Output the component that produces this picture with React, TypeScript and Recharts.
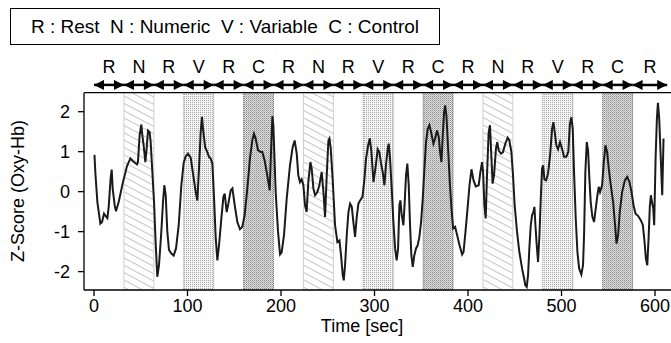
import {
  LineChart,
  Line,
  XAxis,
  YAxis,
  ReferenceArea,
  ReferenceLine,
} from "recharts";

const FONT = '"Liberation Sans", Arial, sans-serif';

// task blocks (sec)
const blockLabels = ["R", "N", "R", "V", "R", "C", "R", "N", "R", "V", "R", "C", "R", "N", "R", "V", "R", "C", "R"];
const blockEdges = [0, 32, 64, 96, 128, 160, 192, 224, 256, 288, 320, 352, 384, 416, 448, 480, 512, 544, 576, 613];

const xTicks = [0, 100, 200, 300, 400, 500, 600];
const yTicks = [-2, -1, 0, 1, 2];

const timeSec = [
  0.5, 1.4, 3.6, 6.8, 8.6, 10.7, 12.5, 14.3, 15.7, 17.8, 18.9, 20.0, 22.1, 23.5, 26.4, 31.0, 35.3, 38.9, 41.7, 46.0,
  47.0, 48.8, 50.6, 51.7, 53.1, 54.9, 56.3, 57.8, 59.5, 60.6, 62.4, 64.2, 65.9, 67.7, 69.5, 72.0, 73.8, 75.2, 76.7, 78.4,
  80.2, 82.7, 85.2, 87.7, 90.6, 93.4, 95.9, 98.0, 100.5, 103.4, 105.9, 108.7, 110.5, 112.3, 114.1, 115.5, 116.6, 118.8, 121.2, 123.0,
  124.8, 126.6, 128.4, 130.2, 131.9, 133.7, 136.2, 138.4, 139.8, 141.9, 143.7, 146.2, 148.0, 150.5, 153.3, 156.1, 158.6, 161.1, 164.0, 166.8,
  169.3, 171.1, 172.9, 175.4, 178.2, 180.0, 182.5, 184.7, 186.5, 187.9, 189.3, 190.8, 191.8, 194.3, 196.8, 199.0, 200.7, 203.2, 206.1, 209.6,
  212.5, 214.6, 216.8, 218.5, 220.3, 222.1, 223.9, 225.7, 227.4, 229.2, 231.4, 232.8, 234.6, 236.4, 238.9, 241.0, 243.5, 245.4, 247.1, 248.9,
  250.7, 251.8, 253.2, 255.4, 257.8, 260.3, 262.5, 264.2, 266.0, 267.1, 268.5, 270.3, 272.1, 273.9, 275.7, 277.4, 279.2, 281.0, 282.8, 284.6,
  287.1, 288.9, 291.0, 293.2, 295.0, 296.7, 298.9, 301.4, 303.4, 305.2, 307.0, 308.8, 310.6, 312.4, 314.2, 315.2, 316.6, 318.4, 320.2, 322.0,
  323.7, 325.2, 326.6, 327.7, 329.1, 330.9, 332.3, 333.7, 335.1, 336.6, 338.0, 339.4, 340.9, 342.6, 344.4, 346.2, 348.0, 349.8, 351.6, 353.4,
  355.1, 356.9, 358.7, 360.5, 363.0, 364.8, 366.9, 368.7, 370.1, 371.6, 373.0, 374.4, 375.5, 376.9, 378.7, 380.5, 382.3, 384.1, 386.2, 388.4,
  390.9, 393.7, 395.2, 397.3, 399.5, 401.6, 403.7, 405.9, 408.3, 411.4, 413.2, 415.0, 416.1, 417.5, 418.9, 420.3, 422.1, 423.5, 424.9, 426.3,
  427.8, 429.9, 431.3, 432.8, 435.3, 437.4, 439.9, 442.4, 444.2, 446.4, 448.1, 449.9, 452.4, 454.9, 457.8, 459.6, 461.3, 462.8, 464.2, 465.6,
  467.1, 468.5, 469.9, 471.0, 472.1, 473.5, 474.9, 476.4, 477.8, 479.2, 480.3, 481.7, 483.5, 485.6, 487.8, 489.9, 491.3, 492.7, 494.5, 496.3,
  498.4, 500.5, 502.7, 505.2, 507.3, 508.9, 510.5, 512.0, 513.4, 515.2, 517.0, 518.8, 521.2, 523.0, 524.1, 525.5, 527.0, 528.4, 529.8, 531.2,
  533.0, 534.8, 536.6, 538.4, 539.8, 541.2, 543.4, 545.2, 547.0, 548.8, 550.5, 552.7, 555.2, 557.0, 558.8, 560.5, 562.3, 564.8, 567.7, 570.2,
  572.7, 574.9, 577.0, 579.2, 582.0, 584.9, 587.0, 588.8, 590.2, 591.7, 593.1, 594.5, 595.6, 596.7, 598.1, 599.1, 600.6, 602.0, 603.1, 604.5,
  606.3, 607.7, 609.1,
];

const zScore = [
  0.92, 0.49, -0.26, -0.8, -0.76, -0.55, -0.61, -0.66, -0.38, 0.33, 0.55, 0.07, -0.34, -0.49, -0.26, 0.24, 0.64, 0.83, 0.76, 0.68,
  0.74, 1.41, 1.68, 1.41, 1.16, 0.74, 1.08, 1.53, 1.49, 1.24, 0.49, -0.26, -1.26, -2.13, -1.84, -1.0, -0.26, 0.16, -0.09, -1.0,
  -1.46, -1.55, -1.6, -1.42, -0.84, 0.16, 0.72, 0.88, 0.95, 0.85, 0.45, 0.0, -0.22, 0.58, 1.49, 1.87, 1.57, 1.12, 0.99, 0.87,
  0.83, 0.7, -0.17, -1.17, -1.72, -1.34, -0.67, -0.13, -0.05, -0.51, -0.3, 0.03, 0.08, -0.34, -0.76, -0.94, -0.88, -0.59, 0.08, 0.83,
  1.29, 1.45, 1.33, 1.04, 0.99, 0.99, 0.78, 0.49, 0.24, 0.03, 0.99, 1.89, 1.66, -0.01, -1.0, -1.57, -1.52, -1.09, -0.17, 0.66,
  1.12, 1.28, 0.95, 0.41, 0.24, 0.31, 0.16, -0.34, -0.51, 0.24, 0.74, 0.58, 0.08, -0.09, -0.01, 0.16, 0.49, -0.01, -0.63, 0.41,
  1.28, 1.33, 1.08, 0.24, -0.84, -1.26, -1.22, -1.59, -2.09, -2.22, -1.84, -1.09, -0.51, -0.3, -0.38, -0.76, -1.13, -0.63, -0.3, -0.22,
  -0.13, 0.24, 0.83, 1.16, 1.33, 0.99, 0.24, 0.66, 1.06, 0.99, 0.7, 0.49, 0.16, 0.7, 1.08, 1.2, 0.83, 0.08, -0.76, -1.42,
  -1.72, -1.42, -0.34, -0.22, -0.59, -0.84, -0.26, 0.41, 0.7, 0.16, -0.84, -1.59, -1.88, -1.59, -1.42, -1.34, -1.13, -0.76, -0.17, 0.58,
  1.24, 1.57, 1.66, 1.49, 1.2, 1.33, 1.53, 1.37, 0.99, 0.74, 1.41, 1.99, 2.16, 1.91, 1.08, 0.24, -0.42, -0.92, -0.88, -1.09,
  -1.34, -1.57, -1.51, -1.0, -0.42, 0.16, 0.56, 0.28, 0.13, 0.16, 0.49, 0.74, 0.49, -0.34, -0.67, 0.41, 1.49, 1.66, 0.91, 0.2,
  0.41, 1.08, 1.24, 1.03, 0.95, 0.99, 1.2, 1.35, 1.28, 0.99, 0.41, -0.34, -1.0, -1.51, -1.92, -2.13, -2.34, -2.38, -2.09, -1.42,
  -0.84, -0.59, -0.51, -0.38, -0.84, -1.34, -1.76, -1.09, -0.17, 0.58, 0.66, 0.31, 0.28, 0.45, 0.91, 1.57, 1.74, 1.49, 1.16, 1.06,
  1.24, 1.08, 0.87, 0.87, 1.0, 1.68, 1.86, 1.57, 0.49, -0.67, -1.51, -1.92, -2.07, -1.84, -1.09, 0.49, 1.24, 1.03, 0.33, -0.26,
  -0.63, -0.76, -0.42, -0.09, 0.12, -0.01, 0.16, 0.74, 1.16, 0.99, 0.58, 0.16, -0.26, -0.76, -1.3, -1.09, -0.51, -0.01, 0.28, 0.37,
  0.24, -0.01, -0.34, -0.55, -0.61, -0.72, -0.84, -1.26, -1.67, -1.84, -1.17, -0.34, -0.09, -0.26, -0.42, -0.84, 0.83, 1.82, 2.22, 1.82,
  0.74, -0.09, 1.33,
];

const X_DOMAIN: [number, number] = [-10.7, 648.1];
const Y_DOMAIN: [number, number] = [-2.46, 2.475];
const ARROW_Y = 2.67;

const fillFor: Record<string, string> = { N: "url(#patN)", V: "url(#patV)", C: "url(#patC)" };
const strokeFor: Record<string, string> = { N: "#cfcfcf", V: "#8a8a8a", C: "#6a6a6a" };

export default function App() {
  const data = timeSec.map((t, i) => ({ t, z: zScore[i] }));
  const centers = blockLabels.map((_, i) => (blockEdges[i] + blockEdges[i + 1]) / 2);
  const tickFont = { fontSize: 18, fill: "#000", fontFamily: FONT };

  return (
    <div style={{ position: "relative", width: 671, height: 343, overflow: "hidden", fontFamily: FONT, background: "#fff" }}>
      <style>{"body{margin:0;overflow:hidden}"}</style>
      <svg width={0} height={0} style={{ position: "absolute" }}>
        <defs>
          <pattern id="patN" patternUnits="userSpaceOnUse" width={10} height={6.5} patternTransform="rotate(28)">
            <rect width={10} height={6.5} fill="#fff" />
            <line x1={0} y1={0.5} x2={10} y2={0.5} stroke="#c4c4c4" strokeWidth={1} />
          </pattern>
          <pattern id="patV" patternUnits="userSpaceOnUse" width={2} height={2}>
            <rect width={2} height={2} fill="#f4f4f4" />
            <rect width={1} height={1} fill="#a8a8a8" />
          </pattern>
          <pattern id="patC" patternUnits="userSpaceOnUse" width={2} height={2}>
            <rect width={2} height={2} fill="#e0e0e0" />
            <rect width={1} height={1} fill="#8c8c8c" />
            <rect x={1} y={1} width={1} height={1} fill="#b4b4b4" />
          </pattern>
          <marker id="head" viewBox="0 0 10 10" refX={10} refY={5} markerWidth={11} markerHeight={10}
            markerUnits="userSpaceOnUse" orient="auto-start-reverse">
            <path d="M0,0 L10,5 L0,10 z" fill="#000" />
          </marker>
        </defs>
      </svg>

      <div style={{ position: "absolute", left: 10, top: 8, width: 428, height: 35, border: "1.5px solid #000",
        display: "flex", alignItems: "center", justifyContent: "center", fontSize: 19, whiteSpace: "pre" }}>
        {"R : Rest  N : Numeric  V : Variable  C : Control"}
      </div>

      <LineChart width={700} height={343} data={data} margin={{ top: 50, right: 0, bottom: 0, left: 34 }}
        style={{ position: "absolute", left: 0, top: 0 }}>
        <XAxis xAxisId="top" orientation="top" dataKey="t" type="number" domain={X_DOMAIN} allowDataOverflow
          height={42.7} ticks={centers} interval={0} tickLine={false} tickSize={0} tickMargin={20}
          tickFormatter={(v: number) => blockLabels[centers.indexOf(v)] ?? ""} tick={tickFont}
          axisLine={{ stroke: "#000", strokeWidth: 1.3 }} />
        <XAxis xAxisId="main" dataKey="t" type="number" domain={X_DOMAIN} allowDataOverflow height={53}
          ticks={xTicks} interval={0} tickSize={6} tickMargin={3} tick={tickFont}
          axisLine={{ stroke: "#000", strokeWidth: 1.3 }} tickLine={{ stroke: "#000", strokeWidth: 1.3 }} />
        <YAxis type="number" domain={Y_DOMAIN} allowDataOverflow width={50} ticks={yTicks} interval={0}
          tickSize={6} tickMargin={8} tick={tickFont}
          axisLine={{ stroke: "#000", strokeWidth: 1.3 }} tickLine={{ stroke: "#000", strokeWidth: 1.3 }} />

        {blockLabels.map((b, i) =>
          b === "R" ? null : (
            <ReferenceArea key={"a" + i} xAxisId="main" x1={blockEdges[i]} x2={blockEdges[i + 1]}
              y1={Y_DOMAIN[0]} y2={Y_DOMAIN[1]} fill={fillFor[b]} fillOpacity={1}
              stroke={strokeFor[b]} strokeWidth={1} strokeDasharray={b === "N" ? undefined : "1 1"} />
          )
        )}

        {blockLabels.map((_, i) => (
          <ReferenceLine key={"r" + i} xAxisId="main" ifOverflow="visible"
            segment={[{ x: blockEdges[i], y: ARROW_Y }, { x: blockEdges[i + 1], y: ARROW_Y }]}
            shape={(p: any) => (
              <line x1={p.x1} y1={p.y1} x2={p.x2} y2={p.y2} stroke="#000" strokeWidth={2.5}
                markerStart="url(#head)" markerEnd="url(#head)" />
            )} />
        ))}

        <Line xAxisId="main" type="linear" dataKey="z" stroke="#1a1a1a" strokeWidth={2} dot={false}
          isAnimationActive={false} />
      </LineChart>

      <div style={{ position: "absolute", left: 302, width: 120, top: 316, textAlign: "center", fontSize: 18 }}>
        Time [sec]
      </div>
      <div style={{ position: "absolute", left: 18, top: 191, fontSize: 18, whiteSpace: "nowrap",
        transform: "translate(-50%, -50%) rotate(-90deg)" }}>
        Z-Score (Oxy-Hb)
      </div>
    </div>
  );
}
